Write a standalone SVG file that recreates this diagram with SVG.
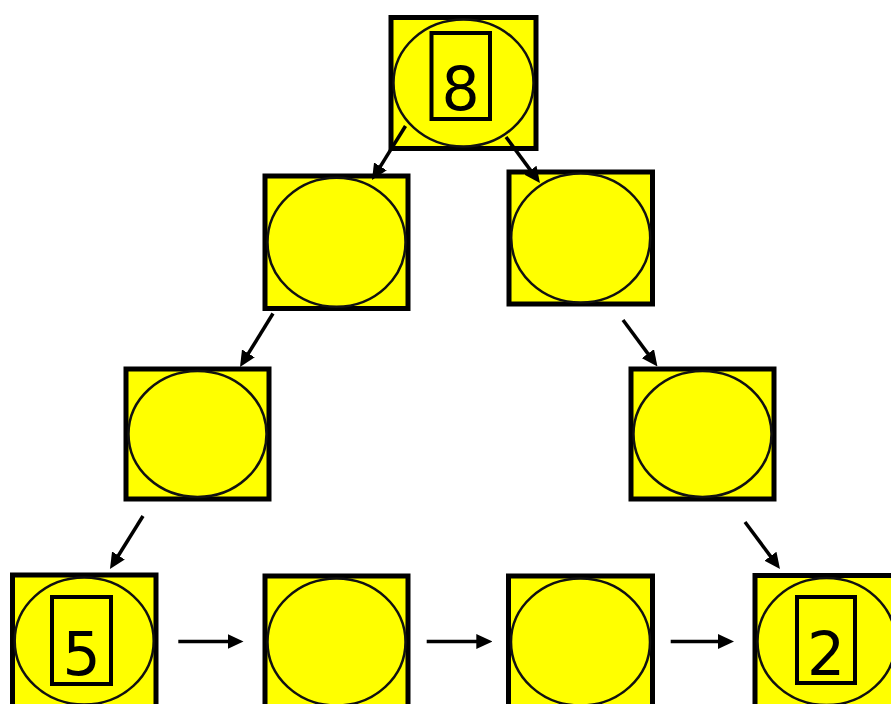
<svg xmlns="http://www.w3.org/2000/svg" width="891" height="704" viewBox="0 0 891 704">
<style>
.box{fill:#ffff00;stroke:#000;stroke-width:5}
.ell{fill:#ffff00;stroke:#111;stroke-width:2.5}
.inner{fill:none;stroke:#000;stroke-width:4}
.num{font-family:"DejaVu Sans",sans-serif;font-size:60px;fill:#000;text-anchor:middle}
.edge{stroke:#000;stroke-width:3.5;fill:none;marker-end:url(#ah)}
</style>
<defs>
<marker id="ah" markerUnits="userSpaceOnUse" markerWidth="16" markerHeight="15" refX="8" refY="7.5" orient="auto">
<path d="M0,0 L16,7.5 L0,15 Z" fill="#000"/>
</marker>
</defs>
<rect width="891" height="704" fill="#fff"/>
<g id="n1">
<rect class="box" x="391" y="17.5" width="145" height="131"/>
<ellipse class="ell" cx="463.5" cy="83" rx="70" ry="63.5"/>
<rect class="inner" x="431.5" y="33" width="58.5" height="86"/>
<text class="num" x="460.7" y="110">8</text>
</g>
<g id="n2">
<rect class="box" x="265" y="176" width="143" height="132.5"/>
<ellipse class="ell" cx="336.5" cy="242.2" rx="69" ry="64.5"/>
</g>
<g id="n3">
<rect class="box" x="509" y="172" width="143.5" height="132"/>
<ellipse class="ell" cx="580.7" cy="238" rx="69.5" ry="64.5"/>
</g>
<g id="n4">
<rect class="box" x="126" y="369" width="143" height="130"/>
<ellipse class="ell" cx="197.5" cy="434" rx="69" ry="63"/>
</g>
<g id="n5">
<rect class="box" x="631" y="369" width="143" height="130"/>
<ellipse class="ell" cx="702.5" cy="434" rx="69" ry="63"/>
</g>
<g id="n6">
<rect class="box" x="12.5" y="575" width="143.5" height="132"/>
<ellipse class="ell" cx="84.2" cy="641" rx="69.5" ry="63.5"/>
<rect class="inner" x="52" y="597" width="59" height="87"/>
<text class="num" x="81.5" y="675">5</text>
</g>
<g id="n7">
<rect class="box" x="265" y="576" width="143" height="132"/>
<ellipse class="ell" cx="336.5" cy="642" rx="69" ry="63.5"/>
</g>
<g id="n8">
<rect class="box" x="508.5" y="576" width="144" height="132"/>
<ellipse class="ell" cx="580.5" cy="642" rx="69.5" ry="63.5"/>
</g>
<g id="n9">
<rect class="box" x="755" y="575.5" width="143" height="132"/>
<ellipse class="ell" cx="826.5" cy="641.5" rx="69" ry="63.5"/>
<rect class="inner" x="797" y="597" width="58" height="86"/>
<text class="num" x="826" y="675">2</text>
</g>
<g id="connectors">
<line class="edge" x1="405.5" y1="126" x2="376.2" y2="173.2"/>
<line class="edge" x1="506" y1="137" x2="535.2" y2="176.6"/>
<line class="edge" x1="273" y1="313.5" x2="244.2" y2="360.2"/>
<line class="edge" x1="623" y1="320" x2="652.7" y2="360.1"/>
<line class="edge" x1="143" y1="516" x2="114.2" y2="562.2"/>
<line class="edge" x1="745" y1="522" x2="775.2" y2="562.6"/>
<line class="edge" x1="178.3" y1="641.5" x2="235.5" y2="641.5"/>
<line class="edge" x1="426.7" y1="641.5" x2="484.3" y2="641.5"/>
<line class="edge" x1="670.7" y1="641.5" x2="726" y2="641.5"/>
</g>
</svg>
